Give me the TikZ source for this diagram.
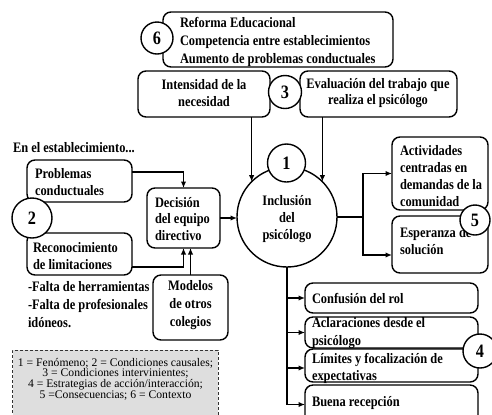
\documentclass[tikz,border=0pt]{standalone}
\usepackage{fontspec}
\setmainfont[FakeStretch=0.86]{Liberation Serif}
\newfontfamily\legfont{Liberation Serif}
\usetikzlibrary{arrows.meta}
\newcommand\mybox[5]{%
  \pgfmathsetmacro\mbW{#4-#2}\pgfmathsetmacro\mbH{#5-#3}%
  \pgfmathsetmacro\mbX{(#2+#4)/2}\pgfmathsetmacro\mbY{(#3+#5)/2}%
  \node[rbx, minimum width=\mbW bp, minimum height=\mbH bp] (#1) at (\mbX,\mbY) {};}
\begin{document}
\begin{tikzpicture}[x=1bp,y=-1bp,
  rbx/.style={draw, rounded corners=8bp, line width=1.4bp, inner sep=0pt, outer sep=0pt},
  numc/.style={draw, circle, line width=1.4bp, fill=white, inner sep=0pt, outer sep=0pt,
    font=\fontsize{19}{19}\selectfont\bfseries},
  txt/.style={inner sep=0pt, outer sep=0pt, align=left, font=\fontsize{14.5}{17}\selectfont\bfseries},
  con/.style={line width=1.3bp},
  arr/.style={con, -{Latex[length=6.5bp,width=5.5bp]}},
  legbox/.style={draw=black!80, dashed, dash pattern=on 3bp off 2bp, line width=1bp, fill=black!13, inner sep=0pt, outer sep=0pt}]
\useasboundingbox (0,0) rectangle (492,414);

% context (6)
\mybox{b6}{163}{12}{393}{67}
\node[txt, anchor=west, font=\fontsize{14.5}{18.5}\selectfont\bfseries] (t6) at (180,42)
  {Reforma Educacional\\Competencia entre establecimientos\\Aumento de problemas conductuales};
\node[numc, minimum size=32bp] (c6) at (157,38) {6};

% intervening conditions (3)
\mybox{int}{138}{71}{270}{117}
\node[txt, align=center, font=\fontsize{14.5}{16.5}\selectfont\bfseries] (tint) at (204,93) {Intensidad de la\\necesidad};
\mybox{eva}{300}{71}{457}{117}
\node[txt, align=center, font=\fontsize{14.5}{16.5}\selectfont\bfseries] (teva) at (378,93) {Evaluación del trabajo que\\realiza el psicólogo};
\node[numc, minimum size=33bp] (c3) at (285,92) {3};

% phenomenon (1)
\node[draw, circle, line width=1.4bp, fill=white, inner sep=0pt, outer sep=0pt, minimum size=100bp] (inc) at (287,217) {};
\node[txt, align=center] (tinc) at (287,219) {Inclusión\\del\\psicólogo};
\node[numc, minimum size=38bp] (c1) at (286.5,163) {1};

% causal conditions (2)
\node[txt, anchor=west] (tent) at (13,148) {En el establecimiento...};
\mybox{prob}{27}{160}{132}{202}
\node[txt, anchor=west] (tprob) at (35,182) {Problemas\\conductuales};
\mybox{rec}{27}{233}{132}{275}
\node[txt, anchor=west] (trec) at (33,256) {Reconocimiento\\de limitaciones};
\node[numc, minimum size=40bp] (c2) at (32,218) {2};

\mybox{dec}{147}{188}{220}{248}
\node[txt, anchor=west, font=\fontsize{14.5}{16.5}\selectfont\bfseries] (tdec) at (155,219) {Decisión\\del equipo\\directivo};
\mybox{mod}{153}{275}{228}{340}
\node[txt, align=center, font=\fontsize{14.5}{18}\selectfont\bfseries] (tmod) at (190.5,305) {Modelos\\de otros\\colegios};
\node[txt, anchor=west, font=\fontsize{14.5}{18}\selectfont\bfseries] (tfal) at (28,305)
  {-Falta de herramientas\\-Falta de profesionales\\idóneos.};

% legend
\node[legbox, minimum width=205bp, minimum height=70bp] (leg) at (115.5,385) {};
\node[inner sep=0pt, align=center, font=\legfont\fontsize{11.7}{10.7}\selectfont] (tleg) at (115.5,379)
  {1 = Fenómeno; 2 = Condiciones causales;\\3 = Condiciones intervinientes;\\4 = Estrategias de acción/interacción;\\5 =Consecuencias; 6 = Contexto};

% consequences (5)
\mybox{act}{392}{137}{488}{210}
\node[txt, anchor=west, font=\fontsize{14.5}{17.3}\selectfont\bfseries] (tact) at (400,176) {Actividades\\centradas en\\demandas de la\\comunidad};
\mybox{esp}{392}{216}{488}{273}
\node[txt, anchor=west] (tesp) at (400,241.5) {Esperanza de\\solución};
\node[numc, minimum size=30bp] (c5) at (475,220) {5};

% strategies (4)
\mybox{conf}{305}{283}{478}{313}
\node[txt, anchor=west] (tconf) at (312,298) {Confusión del rol};
\mybox{acl}{305}{317}{478}{348}
\node[txt, anchor=west, font=\fontsize{14.5}{18}\selectfont\bfseries] (tacl) at (312,333) {Aclaraciones desde el\\psicólogo};
\mybox{lim}{305}{349}{478}{382}
\node[txt, anchor=west] (tlim) at (312,368.5) {Límites y focalización de\\expectativas};
\mybox{buena}{305}{385}{478}{424}
\node[txt, anchor=west] (tbuena) at (312,403) {Buena recepción};
\node[numc, minimum size=34bp] (c4) at (480,351) {4};

% connectors
\draw[arr] ([yshift=9bp]prob.east) -| (dec.north);
\draw[arr] ([yshift=-13bp]rec.east) -| (dec.south);
\draw[arr] (mod.north) -- (mod.north |- dec.south);
\draw[arr] (dec.east) -- (dec.east -| inc.west);
\draw[arr] (int.south -| inc.135) -- (inc.135);
\draw[arr] (eva.south -| inc.45) -- (inc.45);
\coordinate (br) at (363,217);
\draw[con] (inc.east) -- (br);
\draw[arr] (br) |- (act.west);
\draw[arr] (br) |- ([yshift=-10.5bp]esp.west);
\draw[arr] (inc.south) |- (conf.west);
\draw[arr] (inc.south) |- (acl.west);
\draw[arr] (inc.south) |- ([yshift=-2.5bp]lim.west);
\draw[arr] (inc.south) |- (buena.west);
\end{tikzpicture}
\end{document}
